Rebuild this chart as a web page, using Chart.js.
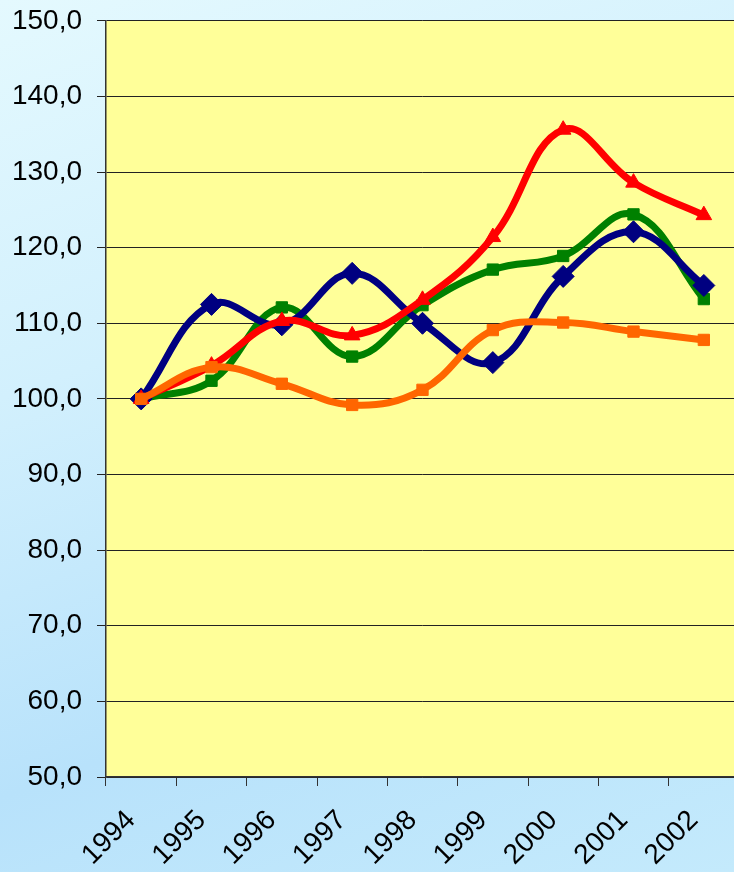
<!DOCTYPE html>
<html lang="en">
<head>
    <meta charset="UTF-8">
    <title>Index 1994-2002</title>
    <script src="https://cdn.jsdelivr.net/npm/chart.js"></script>
    <style>
        body {
            margin: 0;
            padding: 0;
            overflow: hidden;
            background: linear-gradient(160deg, #e4f9fe 0%, #d2f0fd 35%, #b8e2fb 70%, #c4eafc 100%);
        }

        .chart-box {
            width: 751px;
            height: 883px;
            margin-top: -11px;
        }
    </style>
</head>
<body>
    <div class="chart-box">
        <canvas id="lineChart"></canvas>
    </div>

    <script>
        const years = ["1994", "1995", "1996", "1997", "1998", "1999", "2000", "2001", "2002"];
        const blueSeries = [100, 112.5, 109.8, 116.6, 110.0, 104.8, 116.2, 122.1, 115.0];
        const greenSeries = [100, 102.4, 112.1, 105.6, 112.4, 117.1, 118.9, 124.4, 113.2];
        const redSeries = [100, 104.4, 110.3, 108.4, 113.1, 121.4, 135.6, 128.6, 124.3];
        const orangeSeries = [100, 104.2, 102.0, 99.2, 101.2, 109.1, 110.1, 108.9, 107.8];

        // yellow plot area
        const plotBackground = {
            id: "plotBackground",
            beforeDraw(chart) {
                const { ctx, chartArea } = chart;
                ctx.save();
                ctx.fillStyle = "#FFFF99";
                ctx.fillRect(chartArea.left, chartArea.top, chartArea.right - chartArea.left, chartArea.bottom - chartArea.top);
                ctx.restore();
            }
        };

        function series(data, color, style, radius) {
            return {
                data: data,
                borderColor: color,
                backgroundColor: color,
                borderWidth: 7,
                pointStyle: style,
                pointRadius: radius,
                pointBorderWidth: 1,
                tension: 0.4,
                fill: false
            };
        }

        const ctx = document.getElementById("lineChart").getContext("2d");
        new Chart(ctx, {
            type: "line",
            data: {
                labels: years,
                datasets: [
                    series(orangeSeries, "#FF6600", "rect", 8),
                    series(redSeries, "#FF0000", "triangle", 9),
                    series(blueSeries, "#000080", "rectRot", 11),
                    series(greenSeries, "#008000", "rect", 8)
                ]
            },
            options: {
                responsive: true,
                maintainAspectRatio: false,
                animation: false,
                layout: { padding: { top: 0, right: 0, left: 0, bottom: 0 } },
                plugins: {
                    legend: { display: false },
                    tooltip: { enabled: false }
                },
                scales: {
                    x: {
                        offset: true,
                        grid: {
                            offset: true,
                            drawOnChartArea: false,
                            tickLength: 9,
                            color: "#333"
                        },
                        border: { color: "#333", width: 1.5 },
                        ticks: {
                            color: "#000",
                            font: { family: "'Liberation Sans', Arial", size: 28 },
                            minRotation: 45,
                            maxRotation: 45,
                            padding: 18,
                            labelOffset: -10
                        },
                        afterFit(axis) { axis.height = 95; }
                    },
                    y: {
                        min: 50,
                        max: 150,
                        grid: {
                            color: "#222",
                            lineWidth: 1,
                            tickLength: 9
                        },
                        border: { color: "#333", width: 1.5 },
                        ticks: {
                            stepSize: 10,
                            color: "#000",
                            padding: 15,
                            font: { family: "'Liberation Sans', Arial", size: 28 },
                            callback: v => v.toFixed(1).replace(".", ",")
                        },
                        afterFit(axis) { axis.width = 106; }
                    }
                }
            },
            plugins: [plotBackground]
        });
    </script>
</body>
</html>
